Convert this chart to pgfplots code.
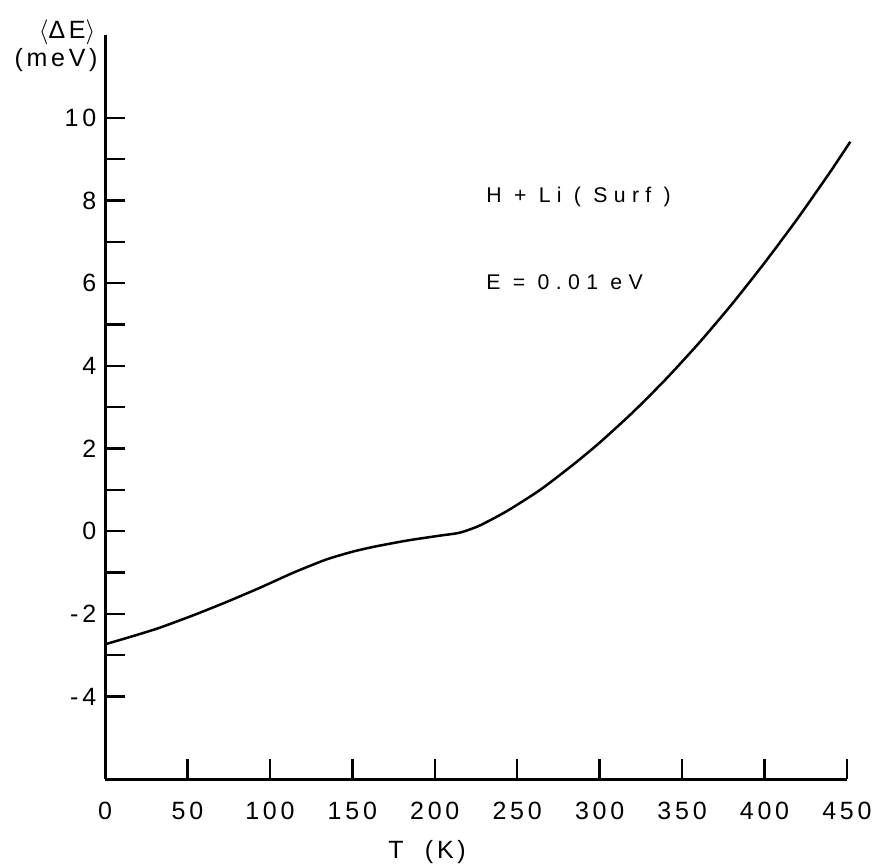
\documentclass[border=0pt]{standalone}
\usepackage{fontspec}
\setmainfont{Liberation Sans}
\usepackage{pgfplots}
\pgfplotsset{compat=1.18}
\newfontfamily\lblfont[LetterSpace=15]{Liberation Sans}
\newfontfamily\annfont[LetterSpace=30]{Liberation Sans}
\begin{document}
\begin{tikzpicture}
\begin{axis}[
 scale only axis, width=296.8pt, height=297.6pt,
 xmin=0, xmax=450, ymin=-6, ymax=12,
 axis x line*=bottom, axis y line*=left,
 axis line style={-, line width=1.2pt},
 xtick={0,50,...,450},
 xticklabels={0,50,100,150,200,250,300,350,400,450},
 ytick={-4,-2,...,10},
 yticklabels={-4,-2,0,2,4,6,8,10},
 minor ytick={-3,-1,...,9},
 tick align=inside,
 major tick length=8pt, minor tick length=8pt,
 tick style={line width=1pt, black},
 ticklabel style={font=\lblfont\fontsize{10}{12}\selectfont},
 xticklabel style={yshift=-5.5pt},
 clip=false,
]
\addplot[black, line width=1pt, smooth, tension=0.4] coordinates {
(0,-2.74) (17,-2.54) (33,-2.34) (54,-2.03) (74,-1.71) (94,-1.37)
(114,-1.01) (134,-0.69) (150,-0.50) (163,-0.38) (183,-0.23) (203,-0.11)
(215,-0.04) (227,0.13) (244,0.49) (264,1.00) (284,1.61) (300,2.14)
(320,2.87) (340,3.67) (360,4.54) (380,5.48) (400,6.49) (420,7.56)
(440,8.70) (452,9.42)
};
\node[font=\lblfont\fontsize{10}{12}\selectfont] at (axis cs:-23,12.07) {$\langle$ΔE$\rangle$};
\node[font=\lblfont\fontsize{10}{12}\selectfont] at (axis cs:-29.7,11.40) {(meV)};
\node[anchor=west, font=\annfont\fontsize{8.5}{10}\selectfont] at (axis cs:226,8.08) {H + Li ( Surf )};
\node[anchor=west, font=\annfont\fontsize{8.5}{10}\selectfont] at (axis cs:226,6.02) {E = 0.01 eV};
\node[font=\lblfont\fontsize{10}{12}\selectfont] at (axis cs:195.3,-7.77) {T \ (K)};
\coordinate (bl) at (axis cs:-63.7,-8.10);
\coordinate (tr) at (axis cs:466.4,12.85);
\end{axis}
\pgfresetboundingbox
\path[use as bounding box] (bl) rectangle (tr);
\end{tikzpicture}
\end{document}
